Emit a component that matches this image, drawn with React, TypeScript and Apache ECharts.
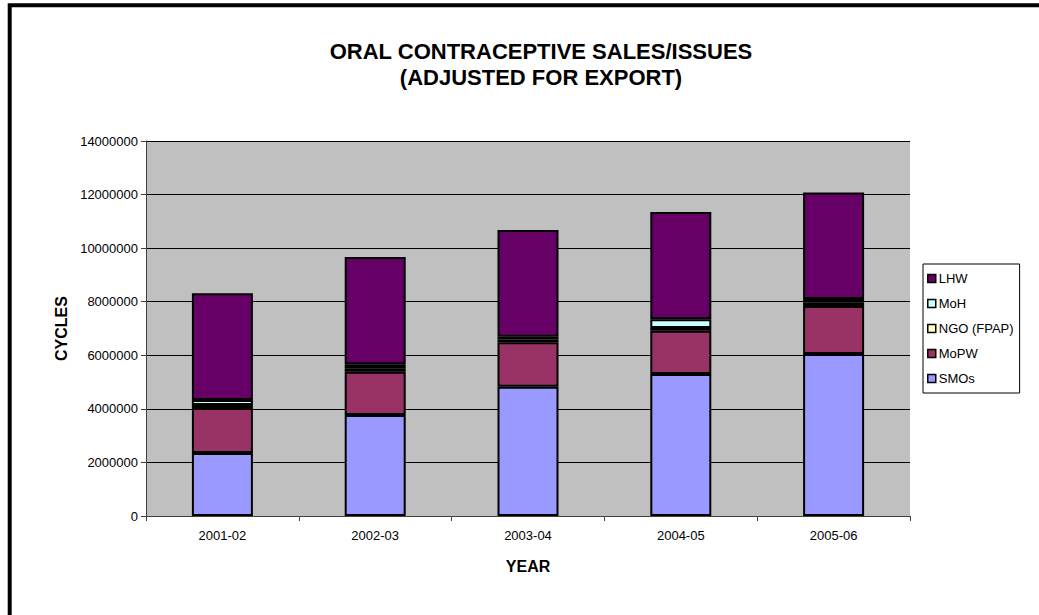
import React, { useEffect, useRef } from "react";
import * as echarts from "echarts";

const categories = ["2001-02", "2002-03", "2003-04", "2004-05", "2005-06"];
const smos = [2350000, 3770000, 4830000, 5300000, 6050000];
const mopw = [1680000, 1620000, 1660000, 1620000, 1790000];
const ngo = [110000, 130000, 100000, 100000, 120000];
const moh = [190000, 150000, 100000, 330000, 140000];
const lhw = [3990000, 4000000, 3990000, 4000000, 3980000];
const legendOrder = ["LHW", "MoH", "NGO (FPAP)", "MoPW", "SMOs"];

const FONT = 'Arial, "Liberation Sans", sans-serif';

export default function App() {
  const ref = useRef<HTMLDivElement>(null);
  useEffect(() => {
    if (!ref.current) return;
    const chart = echarts.init(ref.current, null, { renderer: "svg" });
    const mk = (name: string, data: number[], color: string) => ({
      name,
      type: "bar",
      stack: "total",
      data,
      barWidth: 61,
      itemStyle: { color, borderColor: "#000", borderWidth: 2 },
      emphasis: { disabled: true },
    });
    chart.setOption({
      animation: false,
      backgroundColor: "#fff",
      textStyle: { fontFamily: FONT },
      title: {
        text: "ORAL CONTRACEPTIVE SALES/ISSUES\n(ADJUSTED FOR EXPORT)",
        left: 536,
        top: 33,
        textAlign: "center",
        textStyle: { fontFamily: FONT, fontSize: 22, fontWeight: "bold", color: "#000", lineHeight: 26 },
      },
      graphic: [
        {
          type: "rect",
          shape: { x: 9.7, y: 5.3, width: 1200, height: 800 },
          style: { fill: "none", stroke: "#000", lineWidth: 4 },
          silent: true,
        },
      ],
      legend: {
        orient: "vertical",
        left: 923,
        top: 264,
        data: legendOrder,
        itemWidth: 8,
        itemHeight: 8,
        itemGap: 12,
        padding: [8, 6, 8, 4],
        borderColor: "#000",
        borderWidth: 1,
        backgroundColor: "#fff",
        icon: "rect",
        itemStyle: { borderWidth: 1.5, borderColor: "#000" },
        textStyle: { fontFamily: FONT, fontSize: 13, color: "#000", padding: [0, 0, 0, -2] },
      },
      grid: {
        left: 146,
        right: 129,
        top: 141,
        bottom: 99,
        show: true,
        backgroundColor: "#c0c0c0",
        borderWidth: 0,
      },
      xAxis: {
        type: "category",
        data: categories,
        name: "YEAR",
        nameLocation: "middle",
        nameGap: 42,
        nameTextStyle: { fontFamily: FONT, fontSize: 16, fontWeight: "bold", color: "#000" },
        axisLine: { lineStyle: { color: "#404040", width: 1 } },
        axisTick: { show: true, length: 5, lineStyle: { color: "#404040" } },
        axisLabel: { fontFamily: FONT, fontSize: 13, color: "#000", margin: 13 },
      },
      yAxis: {
        type: "value",
        min: 0,
        max: 14000000,
        interval: 2000000,
        name: "CYCLES",
        nameLocation: "middle",
        nameGap: 71,
        nameRotate: 90,
        nameTextStyle: { fontFamily: FONT, fontSize: 16, fontWeight: "bold", color: "#000" },
        axisLine: { show: true, lineStyle: { color: "#404040", width: 1 } },
        axisTick: { show: true, length: 5, lineStyle: { color: "#404040" } },
        axisLabel: {
          fontFamily: FONT,
          fontSize: 13,
          color: "#000",
          margin: 8,
          formatter: (v: number) => String(v),
        },
        splitLine: { show: true, lineStyle: { color: "#000", width: 1 } },
      },
      series: [
        mk("SMOs", smos, "#9999ff"),
        mk("MoPW", mopw, "#993366"),
        mk("NGO (FPAP)", ngo, "#ffffcc"),
        mk("MoH", moh, "#ccffff"),
        mk("LHW", lhw, "#660066"),
      ],
    });
    return () => chart.dispose();
  }, []);
  return (
    <div
      ref={ref}
      style={{ position: "absolute", left: 0, top: 0, width: 1039, height: 615 }}
    />
  );
}
